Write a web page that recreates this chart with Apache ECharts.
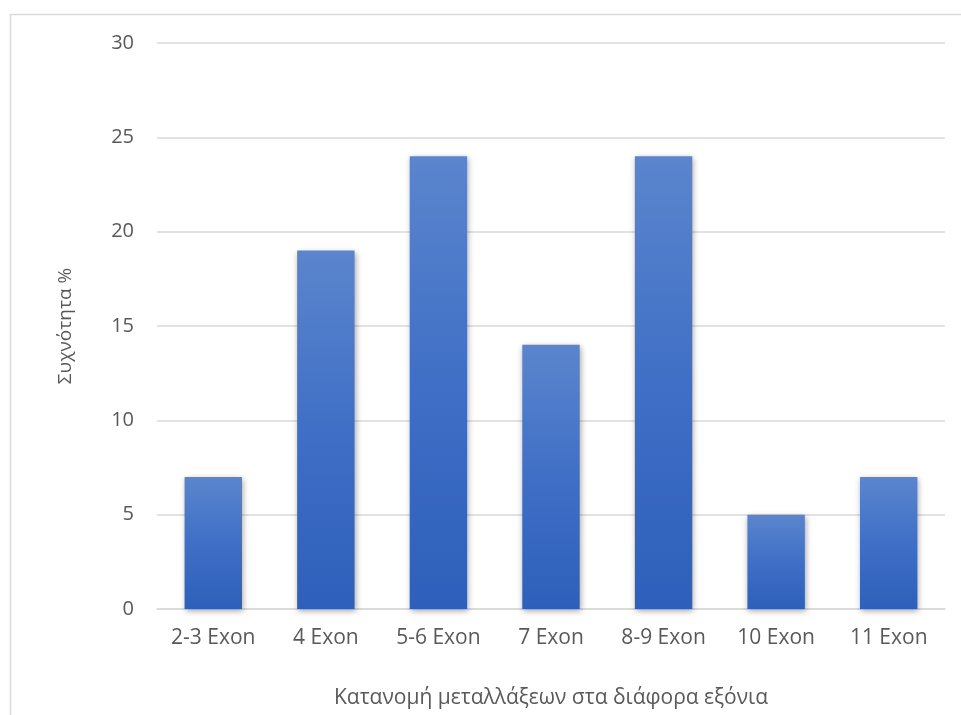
<!DOCTYPE html>
<html>
<head>
<meta charset="utf-8">
<script src="https://cdn.jsdelivr.net/npm/echarts@6/dist/echarts.min.js"></script>
<style>
  html, body { margin: 0; padding: 0; background: #fff; overflow: hidden; }
  #chart { width: 961px; height: 715px; }
</style>
</head>
<body>
<div id="chart"></div>
<script>
// Mutation frequency (%) per exon group
const categories = ['2-3 Exon', '4 Exon', '5-6 Exon', '7 Exon', '8-9 Exon', '10 Exon', '11 Exon'];
const frequency = [7, 19, 24, 14, 24, 5, 7];
const yTicks = { min: 0, max: 30, interval: 5 };

const xTitle = 'Κατανομή μεταλλάξεων στα διάφορα εξόνια';
const yTitle = 'Συχνότητα %';

const textColor = '#595959';
const fontFamily = '"Open Sans", "Noto Sans", sans-serif';

const chart = echarts.init(document.getElementById('chart'), null, { renderer: 'canvas' });

chart.setOption({
  animation: false,
  backgroundColor: '#ffffff',
  graphic: [{
    type: 'rect',
    shape: { x: 10.5, y: 14.5, width: 1000, height: 800 },
    style: { fill: 'none', stroke: '#d9d9d9', lineWidth: 1.5 },
    silent: true,
    z: -1
  }],
  grid: { left: 157, right: 16, top: 43, bottom: 106, containLabel: false },
  xAxis: {
    type: 'category',
    data: categories,
    name: xTitle,
    nameLocation: 'middle',
    nameGap: 79,
    nameTextStyle: { color: textColor, fontSize: 21, fontFamily: fontFamily },
    axisLine: { show: true, lineStyle: { color: '#d9d9d9', width: 1.5 } },
    axisTick: { show: false },
    axisLabel: { color: textColor, fontSize: 21, fontFamily: fontFamily, margin: 19 }
  },
  yAxis: {
    type: 'value',
    min: yTicks.min,
    max: yTicks.max,
    interval: yTicks.interval,
    name: yTitle,
    nameLocation: 'middle',
    nameGap: 82,
    nameRotate: 90,
    nameTextStyle: { color: textColor, fontSize: 19, fontFamily: fontFamily },
    axisLine: { show: false },
    axisTick: { show: false },
    axisLabel: { color: textColor, fontSize: 20, fontFamily: fontFamily, margin: 23 },
    splitLine: { lineStyle: { color: '#d9d9d9', width: 1.5 } }
  },
  series: [{
    type: 'bar',
    data: frequency,
    barWidth: '51%',
    itemStyle: {
      color: new echarts.graphic.LinearGradient(0, 0, 0, 1, [
        { offset: 0, color: '#5b85cd' },
        { offset: 0.5, color: '#3f6fc6' },
        { offset: 1, color: '#2e5fba' }
      ]),
      shadowColor: 'rgba(0,0,0,0.35)',
      shadowBlur: 6,
      shadowOffsetX: 1,
      shadowOffsetY: 2
    }
  }]
});
</script>
</body>
</html>
